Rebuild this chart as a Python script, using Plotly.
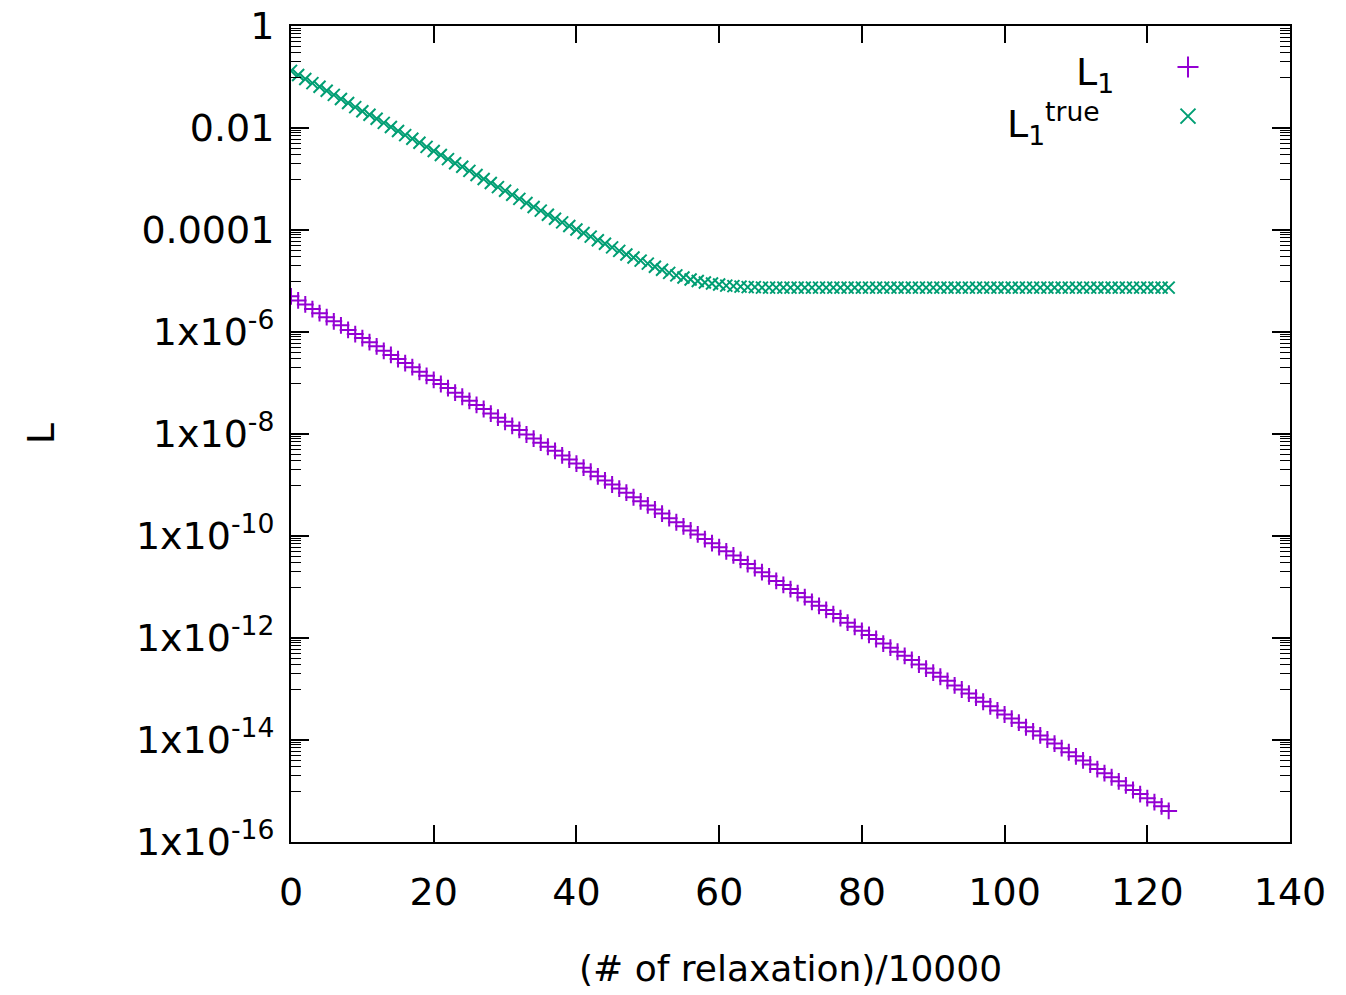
import plotly.graph_objects as go

# x positions (# of relaxation)/10000
steps = list(range(0, 124))

# log10 of L1 (purple +)
l1_log10 = [
    -5.30, -5.38, -5.46, -5.55, -5.63, -5.71, -5.79, -5.87, -5.96, -6.04,
    -6.12, -6.20, -6.28, -6.37, -6.45, -6.53, -6.61, -6.69, -6.78, -6.86,
    -6.94, -7.02, -7.10, -7.19, -7.27, -7.35, -7.43, -7.51, -7.60, -7.68,
    -7.76, -7.84, -7.92, -8.01, -8.09, -8.17, -8.25, -8.33, -8.42, -8.50,
    -8.58, -8.66, -8.74, -8.83, -8.91, -8.99, -9.07, -9.15, -9.24, -9.32,
    -9.40, -9.48, -9.56, -9.65, -9.73, -9.81, -9.89, -9.97, -10.06, -10.14,
    -10.22, -10.30, -10.38, -10.47, -10.55, -10.63, -10.71, -10.79, -10.88, -10.96,
    -11.04, -11.12, -11.20, -11.29, -11.37, -11.45, -11.53, -11.61, -11.70, -11.78,
    -11.86, -11.94, -12.02, -12.11, -12.19, -12.27, -12.35, -12.43, -12.52, -12.60,
    -12.68, -12.76, -12.84, -12.93, -13.01, -13.09, -13.17, -13.25, -13.34, -13.42,
    -13.50, -13.58, -13.66, -13.75, -13.83, -13.91, -13.99, -14.07, -14.16, -14.24,
    -14.32, -14.40, -14.48, -14.57, -14.65, -14.73, -14.81, -14.89, -14.98, -15.06,
    -15.14, -15.22, -15.30, -15.39,
]

# log10 of L1^true (green x)
l1true_log10 = [
    -0.88, -0.96, -1.04, -1.12, -1.19, -1.27, -1.35, -1.43, -1.51, -1.59,
    -1.67, -1.74, -1.82, -1.90, -1.98, -2.06, -2.14, -2.21, -2.29, -2.37,
    -2.45, -2.53, -2.61, -2.69, -2.76, -2.84, -2.92, -3.00, -3.08, -3.16,
    -3.23, -3.31, -3.39, -3.47, -3.55, -3.62, -3.70, -3.78, -3.85, -3.92,
    -3.99, -4.06, -4.13, -4.20, -4.27, -4.34, -4.41, -4.48, -4.54, -4.60,
    -4.66, -4.72, -4.78, -4.84, -4.89, -4.93, -4.97, -5.00, -5.03, -5.05,
    -5.07, -5.09, -5.10, -5.11, -5.12, -5.12, -5.13, -5.13, -5.13, -5.13,
    -5.13, -5.13, -5.13, -5.13, -5.13, -5.13, -5.13, -5.13, -5.13, -5.13,
    -5.13, -5.13, -5.13, -5.13, -5.13, -5.13, -5.13, -5.13, -5.13, -5.13,
    -5.13, -5.13, -5.13, -5.13, -5.13, -5.13, -5.13, -5.13, -5.13, -5.13,
    -5.13, -5.13, -5.13, -5.13, -5.13, -5.13, -5.13, -5.13, -5.13, -5.13,
    -5.13, -5.13, -5.13, -5.13, -5.13, -5.13, -5.13, -5.13, -5.13, -5.13,
    -5.13, -5.13, -5.13, -5.13,
]

y_tick_vals = [1, 1e-2, 1e-4, 1e-6, 1e-8, 1e-10, 1e-12, 1e-14, 1e-16]
y_tick_text = ["1", "0.01", "0.0001", "1x10<sup>-6</sup>", "1x10<sup>-8</sup>",
               "1x10<sup>-10</sup>", "1x10<sup>-12</sup>", "1x10<sup>-14</sup>",
               "1x10<sup>-16</sup>"]
x_tick_vals = [0, 20, 40, 60, 80, 100, 120, 140]

l1 = [10 ** v for v in l1_log10]
l1true = [10 ** v for v in l1true_log10]

PURPLE = "#9400D3"
GREEN = "#009E73"
FONT = "DejaVu Sans"
FS = 38

# gnuplot-style minor ticks: m/10 of each labelled decade
minor_vals = []
for major in y_tick_vals[:-1]:
    for m in range(1, 10):
        minor_vals.append(major * m / 10)

fig = go.Figure()
fig.add_trace(go.Scatter(
    x=steps, y=l1, mode="markers", name="L1",
    marker=dict(symbol="cross-thin", size=12, line=dict(color=PURPLE, width=2), color=PURPLE),
    showlegend=False))
fig.add_trace(go.Scatter(
    x=steps, y=l1true, mode="markers", name="L1 true",
    marker=dict(symbol="x-thin", size=12, line=dict(color=GREEN, width=2), color=GREEN),
    showlegend=False))

# legend key markers on an overlay axis (paper-like 0..1)
fig.add_trace(go.Scatter(
    x=[0.8979], y=[0.9497], xaxis="x2", yaxis="y2", mode="markers",
    marker=dict(symbol="cross-thin", size=15, line=dict(color=PURPLE, width=2)),
    showlegend=False, hoverinfo="skip"))
fig.add_trace(go.Scatter(
    x=[0.8979], y=[0.8896], xaxis="x2", yaxis="y2", mode="markers",
    marker=dict(symbol="x-thin", size=15, line=dict(color=GREEN, width=2)),
    showlegend=False, hoverinfo="skip"))

fig.update_layout(
    width=1346, height=995,
    margin=dict(l=291, r=56, t=26, b=153),
    paper_bgcolor="white", plot_bgcolor="white",
    font=dict(family=FONT, size=FS, color="black"),
    xaxis=dict(
        range=[0, 140], tickvals=x_tick_vals, ticks="inside", ticklen=17, tickwidth=1.5,
        tickcolor="black", showline=True, linecolor="black", linewidth=2, mirror="ticks",
        showgrid=False, zeroline=False, ticklabelstandoff=15, automargin=False,
        tickfont=dict(family=FONT, size=FS),
    ),
    yaxis=dict(
        type="log", range=[-16, 0], tickvals=y_tick_vals, ticktext=y_tick_text,
        ticks="inside", ticklen=18, tickwidth=1.5, tickcolor="black",
        showline=True, linecolor="black", linewidth=2, mirror="ticks",
        showgrid=False, zeroline=False, ticklabelstandoff=7, automargin=False,
        tickfont=dict(family=FONT, size=FS),
        minor=dict(tickvals=minor_vals, ticks="inside", ticklen=10, tickwidth=1.2,
                   tickcolor="black", showgrid=False),
    ),
    xaxis2=dict(range=[0, 1], overlaying="x", visible=False, fixedrange=True),
    yaxis2=dict(range=[0, 1], overlaying="y", visible=False, fixedrange=True),
    annotations=[
        dict(text="(# of relaxation)/10000", xref="paper", yref="paper",
             x=0.5, y=-0.155, xanchor="center", yanchor="middle", showarrow=False,
             font=dict(family=FONT, size=36)),
        dict(text="L", xref="paper", yref="paper", x=-0.25, y=0.5,
             xanchor="center", yanchor="middle", textangle=-90, showarrow=False,
             font=dict(family=FONT, size=FS)),
        dict(text="L<sub>1</sub>", xref="paper", yref="paper", x=0.7838, y=0.94,
             xanchor="left", yanchor="middle", showarrow=False,
             font=dict(family=FONT, size=FS)),
        dict(text="L<sub>1</sub><sup>true</sup>", xref="paper", yref="paper", x=0.7147, y=0.88,
             xanchor="left", yanchor="middle", showarrow=False,
             font=dict(family=FONT, size=FS)),
    ],
)

fig.write_html("out.html")
